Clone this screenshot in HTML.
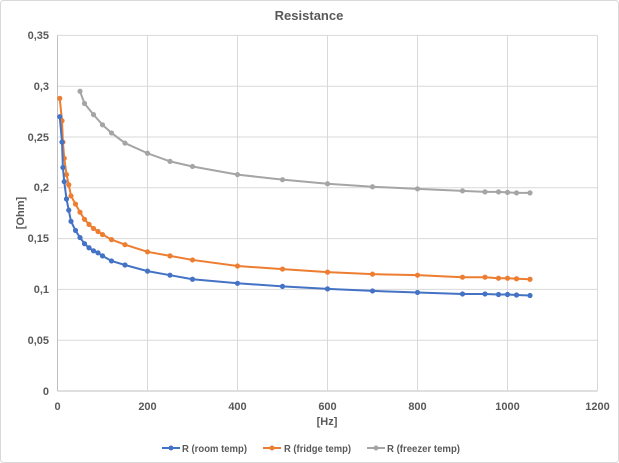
<!DOCTYPE html>
<html><head><meta charset="utf-8"><style>
body{margin:0;background:#fff;}
svg{display:block;font-family:"Liberation Sans",sans-serif;}
</style></head><body>
<svg id="s" width="619" height="463" viewBox="0 0 619 463">
<rect x="0.5" y="0.5" width="618" height="462" fill="#fff" stroke="#d9d9d9" rx="3"/>
<text x="309" y="20" font-size="13" font-weight="bold" fill="#595959" text-anchor="middle">Resistance</text>
<g id="grid" stroke="#d9d9d9" stroke-width="1"></g>
<g font-size="11" fill="#595959" font-weight="bold">
<text x="49" y="395" text-anchor="end">0</text>
<text x="49" y="344" text-anchor="end">0,05</text>
<text x="49" y="293" text-anchor="end">0,1</text>
<text x="49" y="242" text-anchor="end">0,15</text>
<text x="49" y="191" text-anchor="end">0,2</text>
<text x="49" y="141" text-anchor="end">0,25</text>
<text x="49" y="90" text-anchor="end">0,3</text>
<text x="49" y="39" text-anchor="end">0,35</text>
<text x="57.5" y="410" text-anchor="middle">0</text>
<text x="147.5" y="410" text-anchor="middle">200</text>
<text x="237.5" y="410" text-anchor="middle">400</text>
<text x="327.5" y="410" text-anchor="middle">600</text>
<text x="417.5" y="410" text-anchor="middle">800</text>
<text x="507.5" y="410" text-anchor="middle">1000</text>
<text x="597.5" y="410" text-anchor="middle">1200</text>
<text x="327" y="425" text-anchor="middle">[Hz]</text>
<text transform="translate(24,213) rotate(-90)" text-anchor="middle">[Ohm]</text>
</g>
<g font-size="10" fill="#595959" font-weight="bold">
<text x="182" y="452" textLength="65" lengthAdjust="spacingAndGlyphs">R (room temp)</text>
<text x="284" y="452" textLength="67" lengthAdjust="spacingAndGlyphs">R (fridge temp)</text>
<text x="387" y="452" textLength="73" lengthAdjust="spacingAndGlyphs">R (freezer temp)</text>
</g>
<g id="series"></g>
<line x1="162" y1="448" x2="180" y2="448" stroke="#4472c4" stroke-width="2"/><circle cx="171" cy="448" r="2.5" fill="#4472c4"/>
<line x1="263" y1="448" x2="281" y2="448" stroke="#ed7d31" stroke-width="2"/><circle cx="272" cy="448" r="2.5" fill="#ed7d31"/>
<line x1="367" y1="448" x2="385" y2="448" stroke="#a5a5a5" stroke-width="2"/><circle cx="376" cy="448" r="2.5" fill="#a5a5a5"/>
</svg>
<script>
var ns="http://www.w3.org/2000/svg";
function X(f){return 57.5+f*0.45;}
function Y(v){return 391-v*1016;}
var g=document.getElementById("grid");
function ln(p,x1,y1,x2,y2,c){var l=document.createElementNS(ns,"line");l.setAttribute("x1",x1);l.setAttribute("y1",y1);l.setAttribute("x2",x2);l.setAttribute("y2",y2);if(c)l.setAttribute("stroke",c);p.appendChild(l);}
for(var i=0;i<=7;i++){var y=Y(i*0.05);ln(g,57.5,y,597.5,y,i==0?"#bfbfbf":null);}
for(var i=0;i<=6;i++){var x=X(i*200);ln(g,x,35.5,x,391,i==0?"#bfbfbf":null);}
var F=[5,10,12,15,20,25,30,40,50,60,70,80,90,100,120,150,200,250,300,400,500,600,700,800,900,950,980,1000,1020,1050];
var room=[.27,.245,.22,.206,.189,.178,.167,.158,.151,.145,.141,.138,.136,.133,.128,.124,.118,.114,.110,.106,.103,.1005,.0985,.097,.0955,.0955,.095,.095,.0945,.094];
var fr=[.288,.266,.245,.229,.213,.203,.192,.184,.176,.169,.164,.16,.157,.154,.149,.144,.137,.133,.129,.123,.12,.117,.115,.114,.112,.112,.111,.111,.1105,.11];
var FF=[50,60,80,100,120,150,200,250,300,400,500,600,700,800,900,950,980,1000,1020,1050];
var fz=[.295,.283,.272,.262,.254,.244,.234,.226,.221,.213,.208,.204,.201,.199,.197,.196,.196,.1955,.195,.195];
var S=document.getElementById("series");
function draw(f,v,c){var pts=f.map(function(a,i){return X(a)+","+Y(v[i]);}).join(" ");
var p=document.createElementNS(ns,"polyline");p.setAttribute("points",pts);p.setAttribute("fill","none");p.setAttribute("stroke",c);p.setAttribute("stroke-width","2");S.appendChild(p);
f.forEach(function(a,i){var e=document.createElementNS(ns,"circle");e.setAttribute("cx",X(a));e.setAttribute("cy",Y(v[i]));e.setAttribute("r","2.6");e.setAttribute("fill",c);S.appendChild(e);});}
draw(FF,fz,"#a5a5a5");draw(F,fr,"#ed7d31");draw(F,room,"#4472c4");
</script>
</body></html>
